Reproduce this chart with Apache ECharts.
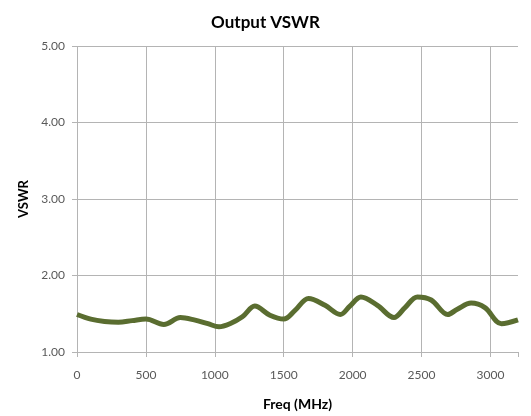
<!DOCTYPE html>
<html>
<head>
<meta charset="utf-8">
<script src="https://cdn.jsdelivr.net/npm/echarts@6/dist/echarts.min.js"></script>
<style>
  html, body { margin: 0; padding: 0; background: #fff; }
</style>
</head>
<body>
<div id="chart" style="width: 531px; height: 416px"></div>
<script>
// frequency points (MHz) and VSWR
const freqs = [0, 100, 200, 300, 400, 500, 630, 750, 850, 950, 1030, 1110, 1200, 1290, 1400, 1500, 1580, 1680, 1800, 1910, 1980, 2060, 2180, 2300, 2380, 2470, 2570, 2690, 2760, 2860, 2960, 3080, 3200]
const vswr = [1.49, 1.43, 1.40, 1.39, 1.41, 1.43, 1.36, 1.45, 1.42, 1.37, 1.33, 1.37, 1.46, 1.60, 1.48, 1.43, 1.54, 1.70, 1.61, 1.49, 1.60, 1.72, 1.61, 1.45, 1.58, 1.72, 1.68, 1.49, 1.56, 1.64, 1.58, 1.37, 1.42]

const font = 'Lato, "Open Sans", sans-serif'
const gridGray = '#b4b4b4'

const chart = echarts.init(document.getElementById('chart'))

const option = {
  animation: false,
  title: {
    text: 'Output VSWR',
    left: 'center',
    top: 9,
    textStyle: { fontFamily: font, fontSize: 17, fontWeight: 'bold', color: '#000' }
  },
  grid: { left: 77, right: 13, top: 46, bottom: 63 },
  xAxis: {
    type: 'value',
    min: 0,
    max: 3200,
    interval: 500,
    name: 'Freq (MHz)',
    nameLocation: 'middle',
    nameGap: 45,
    nameTextStyle: { fontFamily: font, fontSize: 14, fontWeight: 'bold', color: '#000' },
    axisLine: { show: true, lineStyle: { color: gridGray } },
    axisTick: { show: true, length: 5, lineStyle: { color: gridGray } },
    axisLabel: {
      margin: 17,
      fontFamily: font,
      fontSize: 12,
      color: '#595959',
      formatter: v => (v % 500 === 0 ? String(v) : '')
    },
    splitLine: {
      show: true,
      lineStyle: { color: [gridGray, gridGray, gridGray, gridGray, gridGray, gridGray, gridGray, 'transparent'] }
    }
  },
  yAxis: {
    type: 'value',
    min: 1,
    max: 5,
    interval: 1,
    name: 'VSWR',
    nameLocation: 'middle',
    nameGap: 46,
    nameTextStyle: { fontFamily: font, fontSize: 13, fontWeight: 'bold', color: '#000' },
    axisLine: { show: false },
    axisTick: { show: true, length: 5, lineStyle: { color: gridGray } },
    axisLabel: {
      margin: 12,
      fontFamily: font,
      fontSize: 12,
      color: '#595959',
      formatter: v => v.toFixed(2)
    },
    splitLine: { show: true, lineStyle: { color: gridGray } }
  },
  series: [
    {
      type: 'line',
      data: freqs.map((f, i) => [f, vswr[i]]),
      smooth: 0.35,
      showSymbol: false,
      lineStyle: { color: '#5a6d30', width: 5 }
    }
  ]
}

chart.setOption(option)
</script>
</body>
</html>
